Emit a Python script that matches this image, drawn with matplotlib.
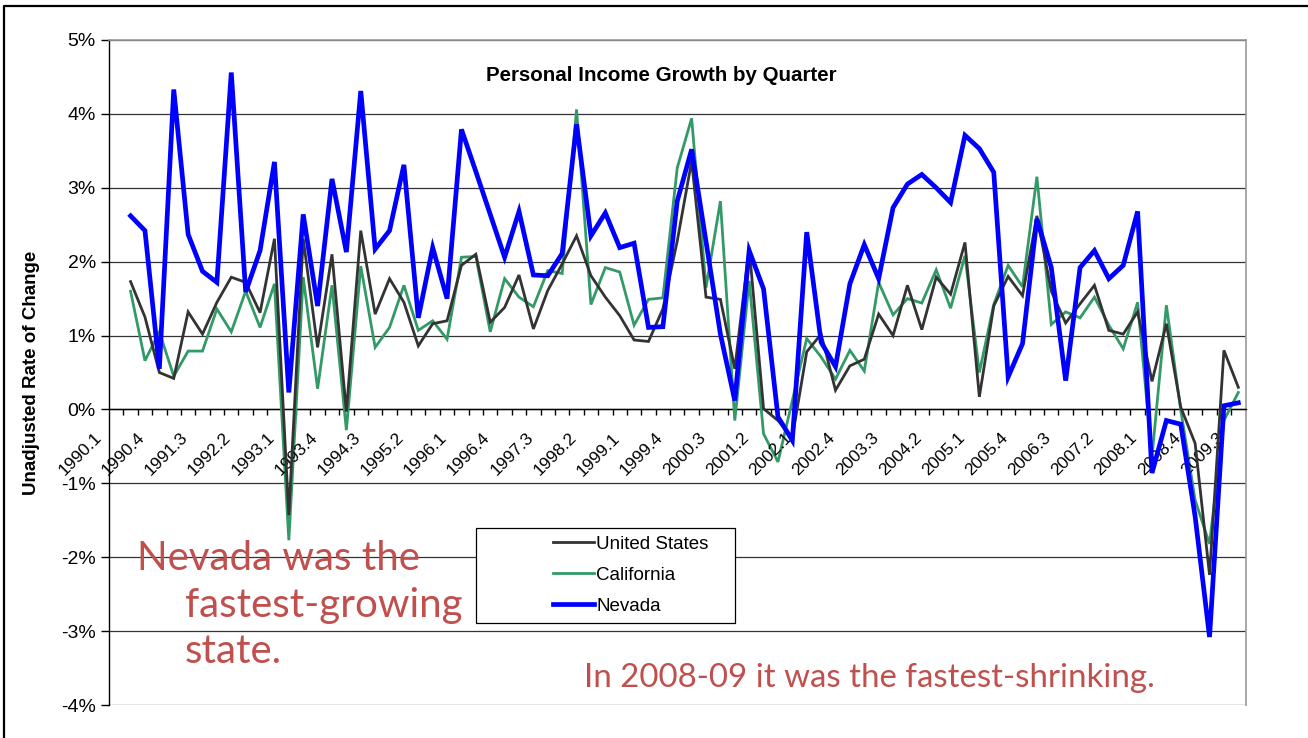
"""Personal income growth by quarter: US, California and Nevada."""

import matplotlib
matplotlib.use('Agg')
import matplotlib.pyplot as plt
import matplotlib.transforms as mtrans
from matplotlib.lines import Line2D
from matplotlib.patches import Rectangle
from matplotlib.ticker import FixedLocator, PercentFormatter

W, H = 1308, 738
DPI = 100

# Quarters on the category axis (1990.1 .. 2009.3); growth starts at 1990.2
QUARTERS = [f'{y}.{q}' for y in range(1990, 2010) for q in range(1, 5)][:79]
LABEL_STEP = 3

US = [1.73, 1.25, 0.50, 0.42, 1.32, 1.02, 1.45, 1.79, 1.72, 1.31,
      2.31, -1.43, 2.31, 0.84, 2.10, -0.03, 2.42, 1.29, 1.77, 1.45,
      0.86, 1.16, 1.20, 1.95, 2.10, 1.18, 1.38, 1.82, 1.09, 1.61,
      1.97, 2.35, 1.81, 1.52, 1.27, 0.94, 0.92, 1.36, 2.28, 3.36,
      1.52, 1.49, 0.55, 2.19, 0.01, -0.15, -0.38, 0.78, 1.02, 0.26,
      0.59, 0.68, 1.29, 1.00, 1.68, 1.08, 1.79, 1.56, 2.26, 0.17,
      1.40, 1.80, 1.54, 2.62, 1.60, 1.17, 1.43, 1.68, 1.07, 1.02,
      1.32, 0.38, 1.16, 0.03, -0.46, -2.24, 0.80, 0.30]

CA = [1.60, 0.66, 1.05, 0.45, 0.79, 0.79, 1.36, 1.05, 1.60, 1.11,
      1.70, -1.77, 1.79, 0.28, 1.68, -0.28, 1.94, 0.84, 1.11, 1.68,
      1.07, 1.20, 0.95, 2.06, 2.07, 1.05, 1.77, 1.52, 1.39, 1.88,
      1.84, 4.06, 1.42, 1.92, 1.86, 1.14, 1.49, 1.51, 3.27, 3.94,
      1.65, 2.82, -0.15, 1.74, -0.33, -0.71, 0.12, 0.96, 0.71, 0.41,
      0.80, 0.52, 1.72, 1.28, 1.50, 1.44, 1.89, 1.37, 2.08, 0.50,
      1.42, 1.95, 1.66, 3.15, 1.15, 1.32, 1.24, 1.52, 1.14, 0.82,
      1.45, -0.64, 1.41, -0.01, -1.23, -1.82, -0.15, 0.23]

NV = [2.62, 2.42, 0.55, 4.33, 2.37, 1.87, 1.72, 4.56, 1.59, 2.15,
      3.35, 0.23, 2.64, 1.40, 3.12, 2.13, 4.31, 2.17, 2.42, 3.31,
      1.24, 2.19, 1.50, 3.79, 3.22, 2.64, 2.06, 2.68, 1.82, 1.81,
      2.11, 3.86, 2.35, 2.66, 2.19, 2.25, 1.11, 1.12, 2.82, 3.52,
      2.27, 1.02, 0.12, 2.15, 1.63, -0.10, -0.42, 2.40, 0.91, 0.58,
      1.70, 2.23, 1.77, 2.73, 3.05, 3.18, 3.00, 2.80, 3.71, 3.53,
      3.21, 0.44, 0.89, 2.58, 1.92, 0.39, 1.92, 2.15, 1.77, 1.95,
      2.68, -0.86, -0.15, -0.20, -1.45, -3.08, 0.05, 0.09]

SERIES = [('United States', US, '#333333', 2.0, 4),
          ('California', CA, '#339966', 2.0, 3),
          ('Nevada', NV, '#0000FF', 3.4, 5)]

plt.rcParams['font.family'] = ['Liberation Sans', 'DejaVu Sans']
plt.rcParams['axes.unicode_minus'] = False


def fx(px: float) -> float:
    """Pixel column to figure fraction."""
    return px / W


def fy(py: float) -> float:
    """Pixel row (from top) to figure fraction."""
    return 1 - py / H


fig = plt.figure(figsize=(W / DPI, H / DPI), dpi=DPI)
ax = fig.add_axes([fx(109), fy(705), fx(1245.5) - fx(109), fy(40) - fy(705)])

xs = list(range(1, len(US) + 1))
for name, vals, color, lw, z in SERIES:
    ax.plot(xs, vals, color=color, lw=lw, label=name, zorder=z,
            solid_joinstyle='miter')

ax.set_xlim(-0.5, len(QUARTERS) - 0.5)
ax.set_ylim(-4, 5)

# Axes: horizontal axis crosses at 0 %
ax.spines['bottom'].set_position(('data', 0))
ax.spines['bottom'].set_color('black')
ax.spines['bottom'].set_linewidth(1.0)
ax.spines['left'].set_color('black')
ax.spines['left'].set_linewidth(1.0)
for side in ('top', 'right'):
    ax.spines[side].set_color('#999999')
    ax.spines[side].set_linewidth(1.2)

ax.yaxis.set_major_locator(FixedLocator(range(-4, 6)))
ax.yaxis.set_major_formatter(PercentFormatter(xmax=100, decimals=0))
ax.yaxis.grid(True, color='#333333', lw=0.9)
ax.set_axisbelow(True)
ax.tick_params(axis='y', direction='out', length=5.5, width=1.0,
               labelsize=14, pad=4, colors='black')

ax.xaxis.set_major_locator(FixedLocator([k - 0.5 for k in range(1, len(QUARTERS))]))
ax.tick_params(axis='x', direction='out', length=4, width=1.0,
               labelbottom=False, colors='black')

offset = mtrans.ScaledTranslation(-17 / DPI, -26 / DPI, fig.dpi_scale_trans)
for i in range(0, len(QUARTERS), LABEL_STEP):
    ax.text(i, 0, QUARTERS[i], transform=ax.transData + offset,
            rotation=45, rotation_mode='anchor', ha='right', va='center',
            fontsize=12.5, color='black')

fig.text(fx(31.5), fy(372.5), 'Unadjusted Rate of Change', rotation=90,
         ha='center', va='center', fontsize=13.5, fontweight='bold')
fig.text(fx(661), fy(81), 'Personal Income Growth by Quarter', ha='center',
         va='baseline', fontsize=14.8, fontweight='bold')

# Legend box
fig.add_artist(Rectangle((fx(476), fy(623)), fx(735) - fx(476), fy(528) - fy(623),
                         transform=fig.transFigure, facecolor='white',
                         edgecolor='black', lw=0.9, zorder=1))
handles = [Line2D([], [], color=c, lw=lw) for _, _, c, lw, _ in SERIES]
leg = fig.legend(handles, [s[0] for s in SERIES], loc='upper left',
                 bbox_to_anchor=(fx(553), fy(535.5)), frameon=False,
                 fontsize=13.5, handlelength=2.2, handletextpad=0.1,
                 borderpad=0, borderaxespad=0, labelspacing=0.74)
leg.set_zorder(2)

# Slide annotations
RED = '#C0504D'
ann = dict(color=RED, family=['Lato', 'DejaVu Sans'], va='baseline', ha='left')
fig.text(fx(137), fy(570), 'Nevada was the', fontsize=29, **ann)
fig.text(fx(185), fy(617), 'fastest-growing', fontsize=29, **ann)
fig.text(fx(185), fy(663), 'state.', fontsize=29, **ann)
fig.text(fx(584), fy(687), 'In 2008-09 it was the fastest-shrinking.', fontsize=23.8, **ann)

# Slide border
fig.add_artist(Line2D([fx(3.5), fx(3.5), 1], [0, fy(6), fy(6)],
                      transform=fig.transFigure, color='black', lw=1.6))

fig.savefig('out.png', dpi=DPI)
